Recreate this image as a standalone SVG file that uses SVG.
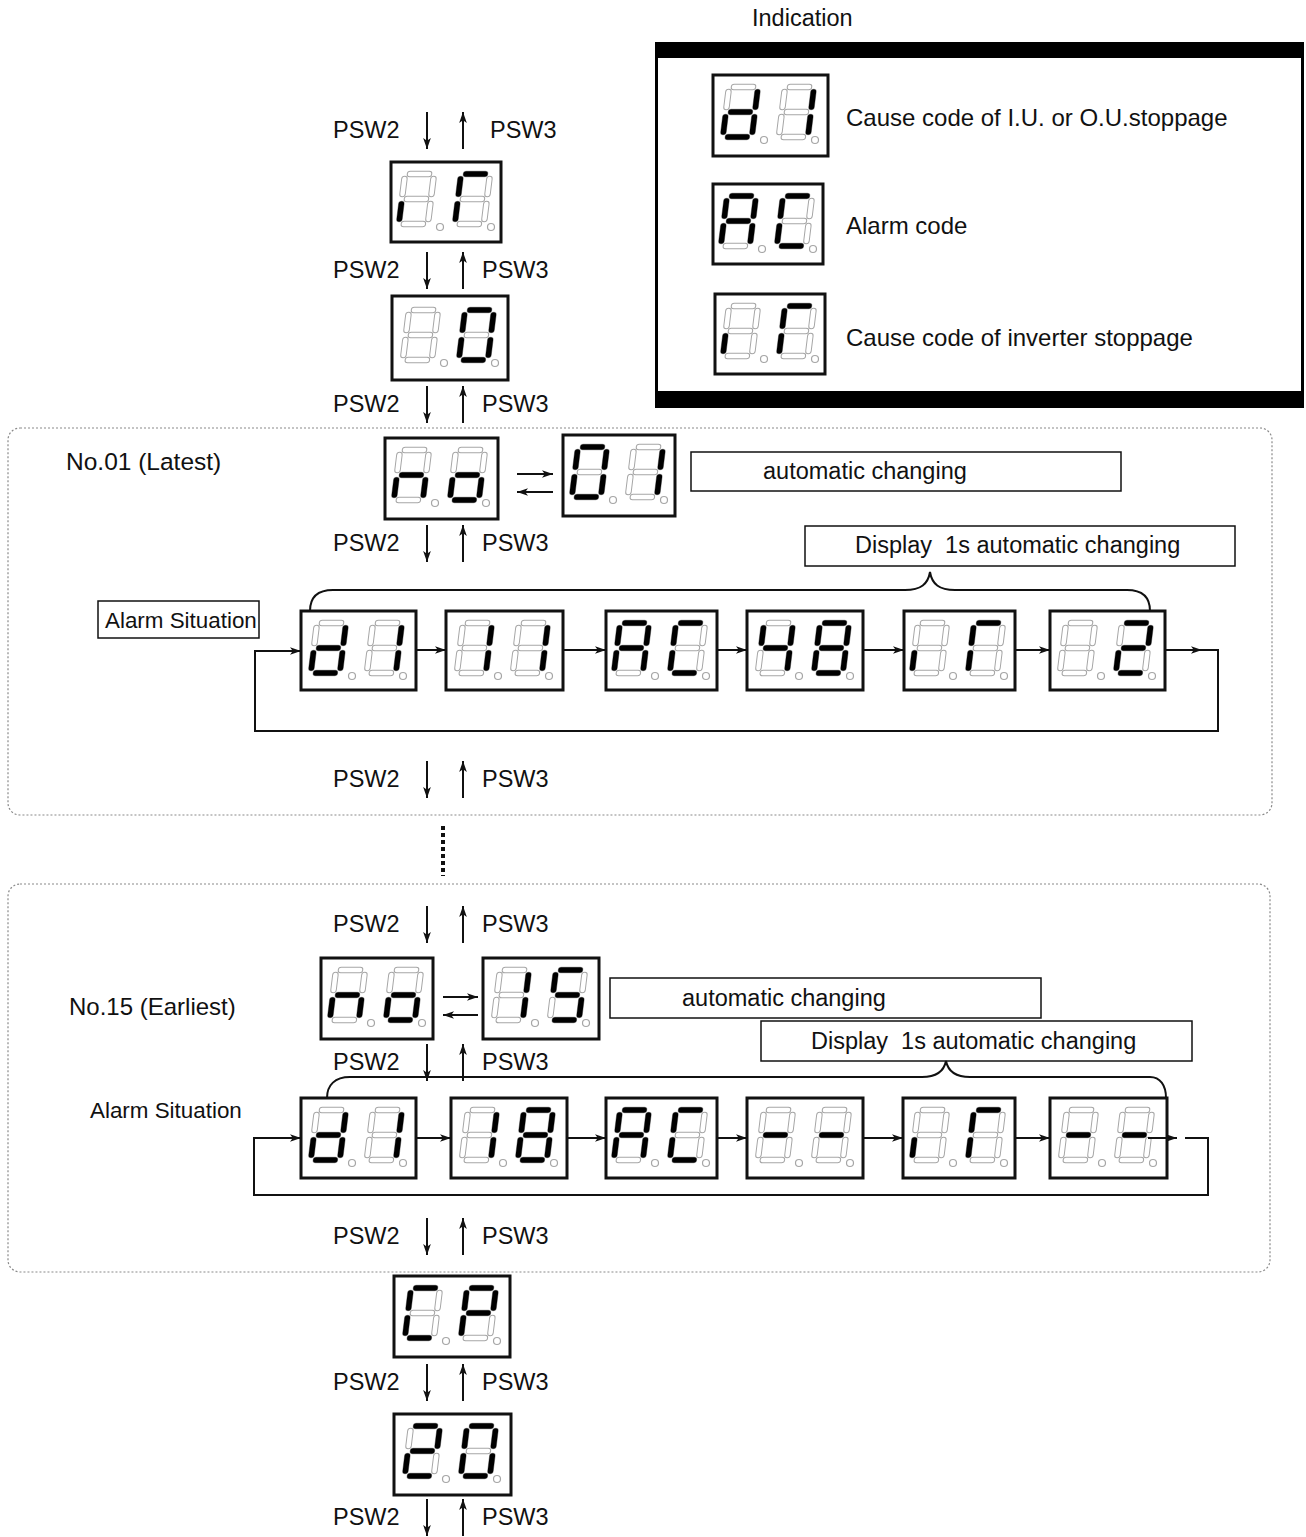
<svg xmlns="http://www.w3.org/2000/svg" xmlns:xlink="http://www.w3.org/1999/xlink" width="1306" height="1537" viewBox="0 0 1306 1537">
<style>
text{font-family:"Liberation Sans",Arial,sans-serif;font-size:23.5px;fill:#111}
.box{fill:#fff;stroke:#111;stroke-width:3}
.lbl{fill:#fff;stroke:#111;stroke-width:1.5}
.uo{stroke:#a6a6a6;stroke-width:6.5;stroke-linecap:round}
.ui{stroke:#fff;stroke-width:4.5;stroke-linecap:round}
.lit{stroke:#000;stroke-width:5.5;stroke-linecap:round}
.dpc{fill:#fff;stroke:#a6a6a6;stroke-width:1.2}
.ln{fill:none;stroke:#111;stroke-width:2}
.ar{fill:none;stroke:#111;stroke-width:2;marker-end:url(#ah)}
.grp{fill:none;stroke:#8a8a8a;stroke-width:1.2;stroke-dasharray:2 2}
</style>
<defs>
<marker id="ah" viewBox="0 0 10 10" refX="10" refY="5" markerWidth="11" markerHeight="11" markerUnits="userSpaceOnUse" orient="auto"><path d="M0,1.5 L10,5 L0,8.5 L2.5,5 z" fill="#111"/></marker>
<line id="sa" x1="5" y1="0" x2="24" y2="0"/>
<line id="sb" x1="29" y1="5" x2="29" y2="20"/>
<line id="sc" x1="29" y1="30" x2="29" y2="45"/>
<line id="sd" x1="5" y1="50" x2="24" y2="50"/>
<line id="se" x1="0" y1="30" x2="0" y2="45"/>
<line id="sf" x1="0" y1="5" x2="0" y2="20"/>
<line id="sg" x1="5" y1="25" x2="24" y2="25"/>
<g id="seg7"><use href="#sa"/><use href="#sb"/><use href="#sc"/><use href="#sd"/><use href="#se"/><use href="#sf"/><use href="#sg"/></g>
<g id="blank"><use href="#seg7" class="uo"/><use href="#seg7" class="ui"/></g>
<g id="dp"><circle class="dpc" cx="49" cy="65" r="3.5"/><circle class="dpc" cx="100" cy="65" r="3.5"/></g>
<g id="ch-sp" transform="skewX(-7)"><use href="#blank"/></g>
<g id="ch-0" transform="skewX(-7)"><use href="#blank"/><g class="lit"><use href="#sa"/><use href="#sb"/><use href="#sc"/><use href="#sd"/><use href="#se"/><use href="#sf"/></g></g>
<g id="ch-1" transform="skewX(-7)"><use href="#blank"/><g class="lit"><use href="#sb"/><use href="#sc"/></g></g>
<g id="ch-d" transform="skewX(-7)"><use href="#blank"/><g class="lit"><use href="#sb"/><use href="#sc"/><use href="#sd"/><use href="#se"/><use href="#sg"/></g></g>
<g id="ch-A" transform="skewX(-7)"><use href="#blank"/><g class="lit"><use href="#sa"/><use href="#sb"/><use href="#sc"/><use href="#se"/><use href="#sf"/><use href="#sg"/></g></g>
<g id="ch-C" transform="skewX(-7)"><use href="#blank"/><g class="lit"><use href="#sa"/><use href="#sd"/><use href="#se"/><use href="#sf"/></g></g>
<g id="ch-i" transform="skewX(-7)"><use href="#blank"/><g class="lit"><use href="#se"/></g></g>
<g id="ch-G" transform="skewX(-7)"><use href="#blank"/><g class="lit"><use href="#sa"/><use href="#se"/><use href="#sf"/></g></g>
<g id="ch-n" transform="skewX(-7)"><use href="#blank"/><g class="lit"><use href="#sc"/><use href="#se"/><use href="#sg"/></g></g>
<g id="ch-o" transform="skewX(-7)"><use href="#blank"/><g class="lit"><use href="#sc"/><use href="#sd"/><use href="#se"/><use href="#sg"/></g></g>
<g id="ch-4" transform="skewX(-7)"><use href="#blank"/><g class="lit"><use href="#sb"/><use href="#sc"/><use href="#sf"/><use href="#sg"/></g></g>
<g id="ch-8" transform="skewX(-7)"><use href="#blank"/><g class="lit"><use href="#seg7"/></g></g>
<g id="ch-2" transform="skewX(-7)"><use href="#blank"/><g class="lit"><use href="#sa"/><use href="#sb"/><use href="#sd"/><use href="#se"/><use href="#sg"/></g></g>
<g id="ch-5" transform="skewX(-7)"><use href="#blank"/><g class="lit"><use href="#sa"/><use href="#sc"/><use href="#sd"/><use href="#sf"/><use href="#sg"/></g></g>
<g id="ch-P" transform="skewX(-7)"><use href="#blank"/><g class="lit"><use href="#sa"/><use href="#sb"/><use href="#se"/><use href="#sf"/><use href="#sg"/></g></g>
<g id="ch-m" transform="skewX(-7)"><use href="#blank"/><g class="lit"><use href="#sg"/></g></g>
</defs>
<rect width="1306" height="1537" fill="#fff"/>

<!-- group frames -->
<g id="frames">
<rect class="grp" x="8" y="428" width="1264" height="387" rx="12"/>
<rect class="grp" x="8" y="884" width="1262" height="388" rx="12"/>
<line x1="443" y1="826" x2="443" y2="876" stroke="#111" stroke-width="4" stroke-dasharray="4 3"/>
</g>

<!-- legend -->
<g id="legend">
<text x="752" y="26">Indication</text>
<path d="M655,42 H1304 V408 H655 Z M658,58 V391 H1301 V58 Z" fill="#000" fill-rule="evenodd"/>
<text x="846" y="126" style="font-size:24px">Cause code of I.U. or O.U.stoppage</text>
<text x="846" y="234" style="font-size:24px">Alarm code</text>
<text x="846" y="346" style="font-size:24px">Cause code of inverter stoppage</text>
</g>
<g id="leg-d1" transform="translate(713,75)"><rect class="box" width="115" height="81"/><use href="#dp" x="2"/><use href="#ch-d" x="16" y="12"/><use href="#ch-1" x="72" y="12"/></g>
<g id="leg-AC" transform="translate(713,184)"><rect class="box" width="110" height="80"/><use href="#dp"/><use href="#ch-A" x="14" y="12"/><use href="#ch-C" x="70" y="12"/></g>
<g id="leg-iG" transform="translate(715,294)"><rect class="box" width="110" height="80"/><use href="#dp"/><use href="#ch-i" x="14" y="12"/><use href="#ch-G" x="70" y="12"/></g>

<!-- top chain -->
<g id="top-iG" transform="translate(391,162)"><rect class="box" width="110" height="80"/><use href="#dp"/><use href="#ch-i" x="14" y="12"/><use href="#ch-G" x="70" y="12"/></g>
<g id="top-0" transform="translate(392,296)"><rect class="box" width="116" height="84"/><use href="#dp" x="3" y="2"/><use href="#ch-sp" x="17" y="14"/><use href="#ch-0" x="73" y="14"/></g>

<!-- No.01 -->
<g id="grp1-labels">
<text x="66" y="470" style="font-size:24.5px">No.01 (Latest)</text>
<rect class="lbl" x="691" y="452" width="430" height="39"/>
<text x="763" y="479">automatic changing</text>
<rect class="lbl" x="805" y="526" width="430" height="40"/>
<text x="855" y="553">Display&#160; 1s automatic changing</text>
<rect class="lbl" x="98" y="601" width="161" height="37"/>
<text x="105" y="628" style="font-size:22.4px">Alarm Situation</text>
</g>
<g id="no1" transform="translate(385,438)"><rect class="box" width="113" height="81"/><use href="#dp" x="1"/><use href="#ch-n" x="15" y="12"/><use href="#ch-o" x="71" y="12"/></g>
<g id="n01" transform="translate(563,435)"><rect class="box" width="112" height="81"/><use href="#dp" x="1"/><use href="#ch-0" x="15" y="12"/><use href="#ch-1" x="71" y="12"/></g>
<g id="r1-d1" transform="translate(301,611)"><rect class="box" width="115" height="79"/><use href="#dp" x="2"/><use href="#ch-d" x="16" y="12"/><use href="#ch-1" x="72" y="12"/></g>
<g id="r1-11" transform="translate(446,611)"><rect class="box" width="117" height="79"/><use href="#dp" x="3"/><use href="#ch-1" x="17" y="12"/><use href="#ch-1" x="73" y="12"/></g>
<g id="r1-AC" transform="translate(606,611)"><rect class="box" width="111" height="79"/><use href="#dp"/><use href="#ch-A" x="14" y="12"/><use href="#ch-C" x="70" y="12"/></g>
<g id="r1-48" transform="translate(747,611)"><rect class="box" width="116" height="79"/><use href="#dp" x="3"/><use href="#ch-4" x="17" y="12"/><use href="#ch-8" x="73" y="12"/></g>
<g id="r1-iG" transform="translate(904,611)"><rect class="box" width="111" height="79"/><use href="#dp"/><use href="#ch-i" x="14" y="12"/><use href="#ch-G" x="70" y="12"/></g>
<g id="r1-2" transform="translate(1050,611)"><rect class="box" width="115" height="79"/><use href="#dp" x="2"/><use href="#ch-sp" x="16" y="12"/><use href="#ch-2" x="72" y="12"/></g>

<!-- No.15 -->
<g id="grp2-labels">
<text x="69" y="1015" style="font-size:24px">No.15 (Earliest)</text>
<rect class="lbl" x="610" y="978" width="431" height="40"/>
<text x="682" y="1006">automatic changing</text>
<rect class="lbl" x="761" y="1021" width="431" height="40"/>
<text x="811" y="1049">Display&#160; 1s automatic changing</text>
<text x="90" y="1118" style="font-size:22.4px">Alarm Situation</text>
</g>
<g id="no2" transform="translate(321,958)"><rect class="box" width="112" height="81"/><use href="#dp" x="1"/><use href="#ch-n" x="15" y="12"/><use href="#ch-o" x="71" y="12"/></g>
<g id="n15" transform="translate(483,958)"><rect class="box" width="116" height="81"/><use href="#dp" x="3"/><use href="#ch-1" x="17" y="12"/><use href="#ch-5" x="73" y="12"/></g>
<g id="r2-d1" transform="translate(301,1098)"><rect class="box" width="115" height="80"/><use href="#dp" x="2"/><use href="#ch-d" x="16" y="12"/><use href="#ch-1" x="72" y="12"/></g>
<g id="r2-18" transform="translate(451,1098)"><rect class="box" width="116" height="80"/><use href="#dp" x="3"/><use href="#ch-1" x="17" y="12"/><use href="#ch-8" x="73" y="12"/></g>
<g id="r2-AC" transform="translate(606,1098)"><rect class="box" width="111" height="80"/><use href="#dp"/><use href="#ch-A" x="14" y="12"/><use href="#ch-C" x="70" y="12"/></g>
<g id="r2-mm" transform="translate(747,1098)"><rect class="box" width="116" height="80"/><use href="#dp" x="3"/><use href="#ch-m" x="17" y="12"/><use href="#ch-m" x="73" y="12"/></g>
<g id="r2-iG" transform="translate(903,1098)"><rect class="box" width="112" height="80"/><use href="#dp" x="1"/><use href="#ch-i" x="15" y="12"/><use href="#ch-G" x="71" y="12"/></g>
<g id="r2-mm2" transform="translate(1050,1098)"><rect class="box" width="117" height="80"/><use href="#dp" x="3"/><use href="#ch-m" x="17" y="12"/><use href="#ch-m" x="73" y="12"/></g>

<!-- bottom chain -->
<g id="bot-CP" transform="translate(394,1276)"><rect class="box" width="116" height="81"/><use href="#dp" x="3"/><use href="#ch-C" x="17" y="12"/><use href="#ch-P" x="73" y="12"/></g>
<g id="bot-20" transform="translate(394,1414)"><rect class="box" width="117" height="81"/><use href="#dp" x="3"/><use href="#ch-2" x="17" y="12"/><use href="#ch-0" x="73" y="12"/></g>

<!-- PSW labels -->
<g id="psw-labels">
<text x="333" y="138">PSW2</text><text x="490" y="138">PSW3</text>
<text x="333" y="278">PSW2</text><text x="482" y="278">PSW3</text>
<text x="333" y="412">PSW2</text><text x="482" y="412">PSW3</text>
<text x="333" y="551">PSW2</text><text x="482" y="551">PSW3</text>
<text x="333" y="787">PSW2</text><text x="482" y="787">PSW3</text>
<text x="333" y="932">PSW2</text><text x="482" y="932">PSW3</text>
<text x="333" y="1070">PSW2</text><text x="482" y="1070">PSW3</text>
<text x="333" y="1244">PSW2</text><text x="482" y="1244">PSW3</text>
<text x="333" y="1390">PSW2</text><text x="482" y="1390">PSW3</text>
<text x="333" y="1525">PSW2</text><text x="482" y="1525">PSW3</text>
</g>

<!-- connectors -->
<g id="connectors">
<path class="ar" d="M427,112 V149"/><path class="ar" d="M463,149 V112"/>
<path class="ar" d="M427,252 V289"/><path class="ar" d="M463,289 V252"/>
<path class="ar" d="M427,386 V423"/><path class="ar" d="M463,423 V386"/>
<path class="ar" d="M427,525 V562"/><path class="ar" d="M463,562 V525"/>
<path class="ar" d="M427,761 V798"/><path class="ar" d="M463,798 V761"/>
<path class="ar" d="M427,906 V943"/><path class="ar" d="M463,943 V906"/>
<path class="ar" d="M427,1044 V1081"/><path class="ar" d="M463,1081 V1044"/>
<path class="ar" d="M427,1218 V1255"/><path class="ar" d="M463,1255 V1218"/>
<path class="ar" d="M427,1364 V1401"/><path class="ar" d="M463,1401 V1364"/>
<path class="ar" d="M427,1499 V1536"/><path class="ar" d="M463,1536 V1499"/>
<!-- exchange arrows -->
<path class="ar" d="M517,474 H553"/><path class="ar" d="M553,492 H517"/>
<path class="ar" d="M443,997 H478"/><path class="ar" d="M478,1015 H443"/>
<!-- braces -->
<path class="ln" d="M310,611 C310,597 318,590 333,590 L905,590 C921,590 928,584 930,572 C932,584 939,590 955,590 L1127,590 C1142,590 1150,597 1150,611"/>
<path class="ln" d="M327,1098 C327,1085 335,1077 350,1077 L922,1077 C937,1077 944,1071 946,1061 C948,1071 955,1077 970,1077 L1150,1077 C1160,1077 1166,1085 1166,1098"/>
<!-- row 1 loop -->
<path class="ar" d="M416,650 H446"/><path class="ar" d="M563,650 H606"/><path class="ar" d="M717,650 H747"/><path class="ar" d="M863,650 H904"/><path class="ar" d="M1015,650 H1050"/>
<path class="ar" d="M1165,650 H1202"/>
<path class="ar" d="M1200,650 H1218 V731 H255 V651 H301"/>
<!-- row 2 loop -->
<path class="ar" d="M416,1138 H451"/><path class="ar" d="M567,1138 H606"/><path class="ar" d="M717,1138 H747"/><path class="ar" d="M863,1138 H903"/><path class="ar" d="M1015,1138 H1050"/>
<path class="ar" d="M1148,1138 H1177"/>
<path class="ar" d="M1185,1138 H1208 V1195 H254 V1138 H301"/>
</g>
</svg>
